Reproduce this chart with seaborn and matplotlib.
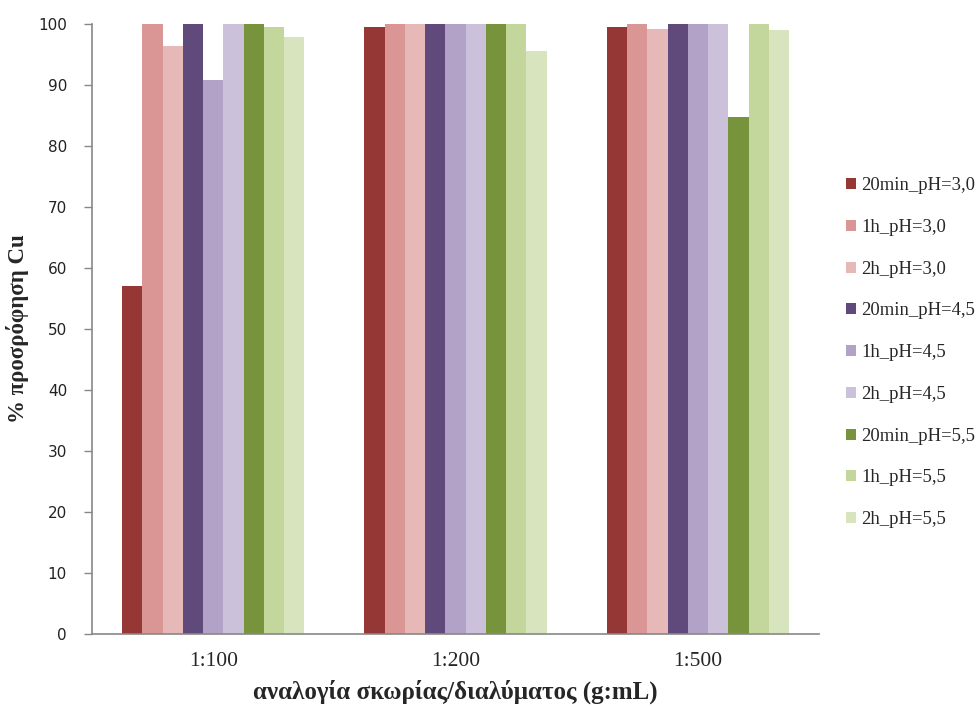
import matplotlib
matplotlib.use("Agg")
import matplotlib.pyplot as plt
import seaborn as sns
import pandas as pd

categories = ["1:100", "1:200", "1:500"]
series = ["20min_pH=3,0", "1h_pH=3,0", "2h_pH=3,0",
          "20min_pH=4,5", "1h_pH=4,5", "2h_pH=4,5",
          "20min_pH=5,5", "1h_pH=5,5", "2h_pH=5,5"]
v_20min_30 = [57.0, 99.5, 99.5]
v_1h_30 = [100.0, 100.0, 100.0]
v_2h_30 = [96.4, 100.0, 99.2]
v_20min_45 = [100.0, 100.0, 100.0]
v_1h_45 = [90.8, 100.0, 100.0]
v_2h_45 = [100.0, 100.0, 100.0]
v_20min_55 = [100.0, 100.0, 84.7]
v_1h_55 = [99.5, 100.0, 100.0]
v_2h_55 = [97.9, 95.6, 99.0]
colors = ["#953735", "#D99694", "#E6B9B8", "#604A7B", "#B3A2C7", "#CCC1DA",
          "#77933C", "#C3D69B", "#D7E4BD"]

all_vals = [v_20min_30, v_1h_30, v_2h_30, v_20min_45, v_1h_45, v_2h_45,
            v_20min_55, v_1h_55, v_2h_55]
rows = []
for s, vals in zip(series, all_vals):
    for c, v in zip(categories, vals):
        rows.append({"ratio": c, "series": s, "value": v})
df = pd.DataFrame(rows)

sns.set_style("white")
fig = plt.figure(figsize=(9.76, 7.06), dpi=100)
ax = fig.add_axes([0.0943, 0.102, 0.745, 0.864])

sns.barplot(data=df, x="ratio", y="value", hue="series", hue_order=series,
            order=categories, palette=colors, saturation=1, width=0.752,
            gap=0, ax=ax, errorbar=None, linewidth=0)

ax.set_ylim(0, 100)
ax.set_xlim(-0.5, 2.5)
ax.set_yticks(range(0, 101, 10))
ax.set_yticklabels([str(t) for t in range(0, 101, 10)],
                   fontfamily="DejaVu Sans", fontsize=11, color="#222222")
ax.set_xticks(range(len(categories)))
ax.set_xticklabels(categories, fontfamily="Liberation Serif", fontsize=15.5)
ax.tick_params(axis="y", length=6, width=1, color="#888888", direction="out", left=True, pad=12)
ax.tick_params(axis="x", length=0, pad=13)

for sp in ["top", "right"]:
    ax.spines[sp].set_visible(False)
for sp in ["left", "bottom"]:
    ax.spines[sp].set_color("#888888")
    ax.spines[sp].set_linewidth(1.2)

ax.set_ylabel("% προσρόφηση Cu", fontfamily="Liberation Serif", fontsize=16.5,
              fontweight="bold")
ax.yaxis.set_label_coords(-0.087, 0.5)
ax.set_xlabel("αναλογία σκωρίας/διαλύματος (g:mL)", fontfamily="Liberation Serif",
              fontsize=18, fontweight="bold", labelpad=6)

handles, labels = ax.get_legend_handles_labels()
ax.legend(handles, labels, loc="upper left", bbox_to_anchor=(0.867, 0.749),
          bbox_transform=fig.transFigure, frameon=False,
          prop={"family": "Liberation Serif", "size": 13.4},
          handlelength=0.55, handleheight=0.55, handletextpad=0.25,
          labelspacing=1.33, borderaxespad=0, borderpad=0)

fig.savefig("out.png", dpi=100)
